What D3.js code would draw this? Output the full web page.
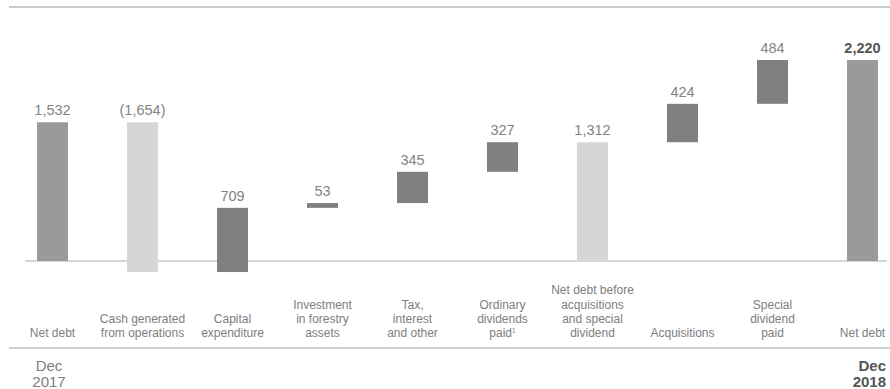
<!DOCTYPE html>
<html>
<head>
<meta charset="utf-8">
<script src="https://cdn.jsdelivr.net/npm/d3@7/dist/d3.min.js"></script>
<style>
  html, body { margin: 0; padding: 0; background: #fff; }
  svg { display: block; font-family: "Liberation Sans", Arial, sans-serif; }
</style>
</head>
<body>
<svg id="chart" width="890" height="389"></svg>
<script>
// Net debt bridge, Dec 2017 to Dec 2018 (€ million)
const categories = [
  ["Net debt"],
  ["Cash generated", "from operations"],
  ["Capital", "expenditure"],
  ["Investment", "in forestry", "assets"],
  ["Tax,", "interest", "and other"],
  ["Ordinary", "dividends", "paid"],
  ["Net debt before", "acquisitions", "and special", "dividend"],
  ["Acquisitions"],
  ["Special", "dividend", "paid"],
  ["Net debt"]
];
// total = absolute level, delta = change on the running total, subtotal = running total
const kinds  = ["total", "delta", "delta", "delta", "delta", "delta", "subtotal", "delta", "delta", "total"];
const values = [1532, -1654, 709, 53, 345, 327, 1312, 424, 484, 2220];
const valueLabels = ["1,532", "(1,654)", "709", "53", "345", "327", "1,312", "424", "484", "2,220"];
const footnoteIndex = 5;          // "paid¹"
const periodLabels = [["Dec", "2017"], ["Dec", "2018"]];

// running waterfall segments
let running = 0;
const bars = values.map((v, i) => {
  let lo, hi;
  if (kinds[i] === "delta") {
    lo = Math.min(running, running + v);
    hi = Math.max(running, running + v);
    running += v;
  } else {
    running = v;
    lo = 0; hi = v;
  }
  return { i, lo, hi, kind: kinds[i], value: v, label: valueLabels[i] };
});

const svg = d3.select("#chart");

const x = d3.scaleBand()
  .domain(d3.range(categories.length))
  .range([7.5, 907.5])
  .paddingInner(59 / 90)
  .paddingOuter(59 / 180);

const y = d3.scaleLinear().domain([0, 2220]).range([261, 60]);

function fillFor(d) {
  if (d.kind === "total") return "#9a9a9a";
  if (d.kind === "subtotal" || d.value < 0) return "#d6d6d6";
  return "#808080";
}

// top rule
svg.append("line")
  .attr("x1", 9).attr("x2", 890).attr("y1", 7).attr("y2", 7)
  .attr("stroke", "#b8b8b8").attr("stroke-width", 1.4);

// zero line
svg.append("line")
  .attr("x1", 25).attr("x2", 887).attr("y1", y(0)).attr("y2", y(0))
  .attr("stroke", "#c8c8c8").attr("stroke-width", 1.4);

// bars
svg.append("g").selectAll("rect")
  .data(bars)
  .join("rect")
  .attr("x", d => x(d.i))
  .attr("width", x.bandwidth())
  .attr("y", d => y(d.hi))
  .attr("height", d => y(d.lo) - y(d.hi))
  .attr("fill", fillFor);

// value labels
svg.append("g").selectAll("text")
  .data(bars)
  .join("text")
  .attr("x", d => x(d.i) + x.bandwidth() / 2)
  .attr("y", d => y(d.hi) - 7)
  .attr("text-anchor", "middle")
  .attr("font-size", 14.5)
  .attr("font-weight", d => d.i === bars.length - 1 ? "bold" : "normal")
  .attr("fill", d => d.i === bars.length - 1 ? "#555" : "#838383")
  .text(d => d.label);

// category labels, bottom-aligned
const lineH = 14.2, catBase = 337;
const cat = svg.append("g").selectAll("text")
  .data(categories)
  .join("text")
  .attr("text-anchor", "middle")
  .attr("font-size", 12)
  .attr("fill", "#7e7e7e");
cat.each(function (lines, i) {
  const t = d3.select(this);
  const cx = x(i) + x.bandwidth() / 2;
  lines.forEach((s, k) => {
    t.append("tspan")
      .attr("x", cx)
      .attr("y", catBase - (lines.length - 1 - k) * lineH)
      .text(s);
    if (i === footnoteIndex && k === lines.length - 1) {
      t.append("tspan").attr("font-size", 6.5).attr("dy", -4).text("1");
    }
  });
});

// bottom rule
svg.append("line")
  .attr("x1", 9).attr("x2", 890).attr("y1", 348).attr("y2", 348)
  .attr("stroke", "#c0c0c0").attr("stroke-width", 1.4);

// period labels
const periods = [
  { lines: periodLabels[0], x: 49, anchor: "middle", weight: "normal", fill: "#7e7e7e" },
  { lines: periodLabels[1], x: 886, anchor: "end", weight: "bold", fill: "#555" }
];
periods.forEach(p => {
  const t = svg.append("text")
    .attr("text-anchor", p.anchor)
    .attr("font-size", 15)
    .attr("font-weight", p.weight)
    .attr("fill", p.fill);
  p.lines.forEach((s, k) => {
    t.append("tspan").attr("x", p.x).attr("y", 371 + k * 16).text(s);
  });
});
</script>
</body>
</html>
